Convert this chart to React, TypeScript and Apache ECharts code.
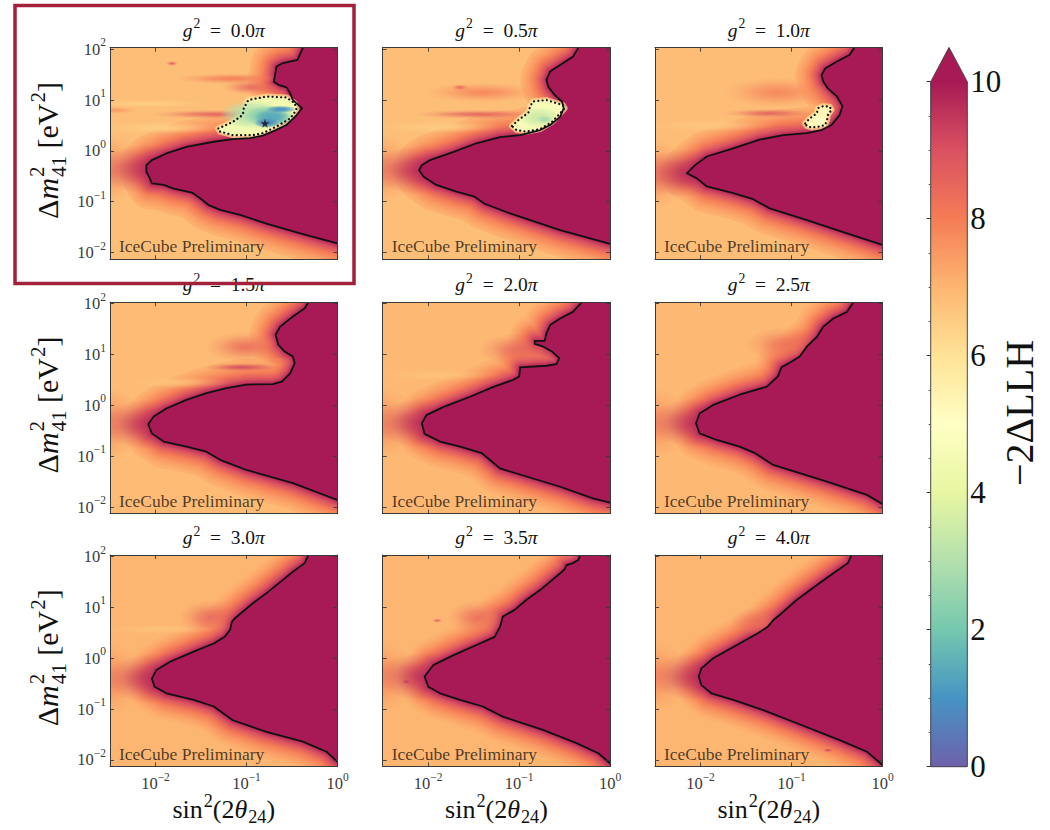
import React, { useEffect, useRef } from 'react';
import * as echarts from 'echarts';

const SERIF = 'Liberation Serif, DejaVu Serif, serif';

// Spectral_r colour map for −2ΔLLH = 0 … 10 (one stop per unit, slightly washed out)
const colourStops = [
  '#6e61ab', '#4694c4', '#75c8ae', '#b3e0ad', '#e8f6a2', '#ffffc5',
  '#fee396', '#fdb671', '#f57c56', '#d95161', '#a81a55',
];

const couplingLabels = ['0.0', '0.5', '1.0', '1.5', '2.0', '2.5', '3.0', '3.5', '4.0'];

// Axis ranges in decades
const sinRange = [-2.5, 0];
const dmRange = [-2.13, 2.03];

// Solid exclusion contours: [log10 sin²(2θ24), log10 Δm²41]
const contourG00 = [
  [-0.38, 2.03], [-0.44, 1.79], [-0.61, 1.72], [-0.67, 1.66], [-0.68, 1.56], [-0.70, 1.36],
  [-0.65, 1.30], [-0.56, 1.25], [-0.52, 1.13], [-0.49, 1.00], [-0.39, 0.84], [-0.45, 0.70],
  [-0.56, 0.51], [-0.69, 0.40], [-0.82, 0.30], [-0.96, 0.25], [-1.15, 0.23], [-1.36, 0.18],
  [-1.66, 0.08], [-1.88, -0.05], [-2.04, -0.18], [-2.10, -0.28], [-2.10, -0.41], [-2.07, -0.51],
  [-2.04, -0.64], [-1.91, -0.67], [-1.80, -0.74], [-1.60, -0.82], [-1.51, -0.93], [-1.42, -1.06],
  [-1.29, -1.16], [-1.07, -1.26], [-0.78, -1.43], [-0.41, -1.62], [0.0, -1.82],
];
const contourG05 = [
  [-0.35, 2.03], [-0.41, 1.85], [-0.55, 1.69], [-0.66, 1.56], [-0.70, 1.40], [-0.68, 1.26],
  [-0.61, 1.10], [-0.53, 0.97], [-0.51, 0.84], [-0.55, 0.67], [-0.66, 0.51], [-0.77, 0.41],
  [-0.99, 0.31], [-1.21, 0.27], [-1.47, 0.15], [-1.72, -0.02], [-1.98, -0.18], [-2.07, -0.28],
  [-2.10, -0.38], [-2.05, -0.51], [-1.91, -0.67], [-1.69, -0.80], [-1.49, -0.90], [-1.38, -1.04],
  [-1.10, -1.23], [-0.55, -1.56], [0.0, -1.83],
];
const contourG10 = [
  [-0.31, 2.03], [-0.36, 1.89], [-0.50, 1.76], [-0.63, 1.62], [-0.67, 1.49], [-0.65, 1.36],
  [-0.60, 1.23], [-0.50, 1.07], [-0.44, 0.88], [-0.47, 0.71], [-0.56, 0.51], [-0.67, 0.41],
  [-0.83, 0.35], [-1.09, 0.31], [-1.35, 0.22], [-1.64, 0.05], [-1.93, -0.11], [-2.06, -0.28],
  [-2.15, -0.44], [-2.04, -0.54], [-1.93, -0.70], [-1.64, -0.83], [-1.42, -0.95], [-1.24, -1.13],
  [-0.83, -1.36], [-0.39, -1.62], [0.0, -1.85],
];
const contourG15 = [
  [-0.32, 2.03], [-0.36, 1.91], [-0.49, 1.75], [-0.63, 1.55], [-0.68, 1.39], [-0.65, 1.19],
  [-0.58, 1.06], [-0.49, 0.96], [-0.47, 0.83], [-0.52, 0.63], [-0.61, 0.47], [-0.71, 0.42],
  [-1.00, 0.41], [-1.22, 0.34], [-1.44, 0.24], [-1.66, 0.11], [-1.88, -0.06], [-2.02, -0.22],
  [-2.08, -0.37], [-2.04, -0.55], [-1.91, -0.71], [-1.66, -0.81], [-1.44, -0.91], [-1.29, -1.07],
  [-1.00, -1.27], [-0.49, -1.53], [0.0, -1.86],
];
const contourG20 = [
  [-0.31, 2.03], [-0.41, 1.84], [-0.55, 1.71], [-0.66, 1.58], [-0.70, 1.42], [-0.72, 1.27],
  [-0.83, 1.27], [-0.83, 1.21], [-0.74, 1.16], [-0.64, 1.06], [-0.56, 0.93], [-0.59, 0.81],
  [-0.70, 0.78], [-0.99, 0.75], [-1.00, 0.57], [-1.07, 0.50], [-1.29, 0.36], [-1.54, 0.17],
  [-1.83, -0.03], [-2.02, -0.19], [-2.07, -0.35], [-2.04, -0.56], [-1.87, -0.71], [-1.65, -0.81],
  [-1.41, -0.94], [-1.21, -1.24], [-0.55, -1.60], [-0.19, -1.83], [0.0, -1.91],
];
const contourG25 = [
  [-0.32, 2.03], [-0.39, 1.84], [-0.54, 1.71], [-0.65, 1.55], [-0.72, 1.35], [-0.83, 1.16],
  [-0.91, 0.96], [-1.00, 0.86], [-1.11, 0.75], [-1.15, 0.57], [-1.27, 0.37], [-1.57, 0.21],
  [-1.86, 0.01], [-2.01, -0.16], [-2.05, -0.35], [-2.01, -0.55], [-1.82, -0.68], [-1.57, -0.81],
  [-1.40, -0.94], [-1.20, -1.17], [-0.61, -1.50], [-0.17, -1.76], [0.0, -1.94],
];
const contourG30 = [
  [-0.32, 2.03], [-0.36, 1.87], [-0.49, 1.70], [-0.60, 1.54], [-0.78, 1.28], [-0.93, 1.08],
  [-1.13, 0.78], [-1.16, 0.72], [-1.18, 0.56], [-1.24, 0.42], [-1.36, 0.29], [-1.58, 0.13],
  [-1.84, -0.07], [-1.99, -0.23], [-2.04, -0.40], [-2.01, -0.56], [-1.88, -0.69], [-1.58, -0.82],
  [-1.36, -0.95], [-1.15, -1.22], [-0.78, -1.45], [-0.38, -1.64], [-0.12, -1.84], [0.0, -2.04],
];
const contourG35 = [
  [-0.33, 2.03], [-0.35, 1.93], [-0.41, 1.87], [-0.48, 1.83], [-0.50, 1.75], [-0.55, 1.67],
  [-0.77, 1.34], [-0.92, 1.15], [-1.05, 0.95], [-1.18, 0.82], [-1.21, 0.62], [-1.27, 0.42],
  [-1.47, 0.26], [-1.72, 0.06], [-1.94, -0.13], [-2.04, -0.36], [-2.00, -0.56], [-1.87, -0.69],
  [-1.65, -0.82], [-1.40, -0.95], [-1.18, -1.15], [-0.74, -1.41], [-0.37, -1.67], [-0.13, -1.87],
  [0.0, -2.07],
];
const contourG40 = [
  [-0.34, 2.03], [-0.38, 1.87], [-0.54, 1.67], [-0.72, 1.44], [-0.94, 1.15], [-1.13, 0.85],
  [-1.20, 0.75], [-1.26, 0.62], [-1.37, 0.49], [-1.60, 0.26], [-1.86, 0.00], [-1.99, -0.20],
  [-2.02, -0.36], [-1.99, -0.53], [-1.88, -0.69], [-1.64, -0.82], [-1.31, -1.02], [-0.94, -1.28],
  [-0.47, -1.61], [-0.17, -1.84], [0.0, -2.10],
];
const contours = [
  contourG00, contourG05, contourG10, contourG15, contourG20,
  contourG25, contourG30, contourG35, contourG40,
];

// Dotted (closed) contours around the low-LLH pockets of the first three couplings
const pocketG00 = [
  [-1.31, 0.44], [-1.15, 0.57], [-1.04, 0.71], [-1.03, 0.84], [-0.98, 1.00], [-0.78, 1.07],
  [-0.56, 1.05], [-0.47, 0.94], [-0.45, 0.81], [-0.52, 0.64], [-0.67, 0.48], [-0.82, 0.35],
  [-0.93, 0.31], [-1.15, 0.31], [-1.29, 0.38],
];
const pocketG05 = [
  [-1.08, 0.49], [-1.00, 0.62], [-0.90, 0.75], [-0.88, 0.87], [-0.85, 0.97], [-0.70, 1.00],
  [-0.52, 0.90], [-0.50, 0.84], [-0.55, 0.74], [-0.64, 0.57], [-0.77, 0.43], [-0.92, 0.38],
  [-1.03, 0.41],
];
const pocketG10 = [
  [-0.85, 0.54], [-0.80, 0.64], [-0.72, 0.74], [-0.71, 0.84], [-0.65, 0.88], [-0.58, 0.87],
  [-0.56, 0.81], [-0.60, 0.71], [-0.61, 0.61], [-0.63, 0.51], [-0.69, 0.48], [-0.78, 0.46],
  [-0.83, 0.49],
];
const pockets = [pocketG00, pocketG05, pocketG10];
const pocketRimLevels = [4.4, 4.6, 5.3];

// Structure inside the pockets: [log10 x, log10 y, half-width, half-height (decades), −2ΔLLH]
const pocketCoreG00 = [
  [-0.95, 0.72, 0.34, 0.28, 3.0],
  [-0.74, 0.68, 0.28, 0.22, 2.0],
  [-0.72, 0.66, 0.20, 0.16, 1.4],
  [-0.78, 0.55, 0.14, 0.10, 0.8],
  [-0.62, 0.82, 0.17, 0.07, 1.0],
];
const pocketCoreG05 = [
  [-0.78, 0.66, 0.22, 0.20, 3.5],
  [-0.72, 0.62, 0.09, 0.08, 2.9],
];
const pocketCoreG10 = [[-0.68, 0.60, 0.08, 0.10, 5.0]];
const pocketCores = [pocketCoreG00, pocketCoreG05, pocketCoreG10];

// Best fit of the g² = 0 scan
const bestFitG00 = [[-0.797, 0.543]];

// Level of the flat part of each surface
const backgroundLevels = [6.8, 6.8, 6.85, 6.9, 6.95, 6.95, 7.0, 7.0, 7.0];

// Rim of the excluded region: [distance from the contour (px), −2ΔLLH]
const rimProfile = [
  [26, 7.12], [23, 7.25], [20.5, 7.4], [18, 7.55], [16, 7.7], [14, 7.88], [12, 8.08],
  [10.5, 8.28], [9, 8.5], [7.5, 8.72], [6, 8.95], [4.5, 9.2], [3, 9.45], [1.5, 9.7],
];

// Local features of each surface: [log10 x, log10 y, half-width, half-height (decades), −2ΔLLH]
const featuresG00 = [
  [-2.55, -0.35, 0.45, 0.70, 7.9], [-2.10, -0.36, 0.52, 0.48, 9.6], [-1.35, 0.72, 0.70, 0.09, 8.7],
  [-1.15, 1.42, 0.65, 0.11, 8.1], [-0.95, 1.25, 0.32, 0.15, 8.5], [-2.10, 0.93, 0.65, 0.08, 6.4],
  [-1.90, 0.45, 0.70, 0.13, 6.4], [-2.45, 0.80, 0.25, 0.07, 7.6], [-1.82, 1.72, 0.07, 0.05, 8.8],
];
const featuresG05 = [
  [-2.55, -0.35, 0.45, 0.70, 7.9], [-2.10, -0.38, 0.52, 0.48, 9.6], [-1.45, 0.72, 0.70, 0.09, 8.7],
  [-1.40, 1.15, 0.65, 0.20, 7.9], [-1.85, 0.47, 0.70, 0.13, 6.5], [-1.65, 1.25, 0.10, 0.06, 8.5],
];
const featuresG10 = [
  [-2.55, -0.45, 0.45, 0.70, 8.0], [-2.15, -0.44, 0.52, 0.48, 9.6], [-1.25, 0.74, 0.50, 0.09, 8.7],
  [-1.15, 1.15, 0.60, 0.30, 7.9], [-1.90, 0.50, 0.70, 0.13, 6.6],
];
const featuresG15 = [
  [-2.55, -0.35, 0.45, 0.70, 7.9], [-2.08, -0.37, 0.52, 0.48, 9.6], [-1.05, 0.75, 0.42, 0.08, 9.2],
  [-1.00, 1.15, 0.45, 0.30, 8.4], [-0.66, 0.90, 0.10, 0.06, 7.9], [-1.80, 0.45, 0.65, 0.13, 6.7],
];
const featuresG20 = [
  [-2.55, -0.35, 0.45, 0.70, 7.9], [-2.07, -0.35, 0.52, 0.48, 9.6], [-1.00, 1.10, 0.45, 0.32, 8.5],
  [-1.90, 0.60, 0.70, 0.13, 6.7],
];
const featuresG25 = [
  [-2.55, -0.35, 0.45, 0.70, 7.9], [-2.05, -0.35, 0.52, 0.48, 9.6], [-1.05, 1.20, 0.45, 0.34, 8.3],
];
const featuresG30 = [
  [-2.55, -0.40, 0.45, 0.70, 7.9], [-2.04, -0.40, 0.52, 0.48, 9.6], [-1.40, 0.80, 0.34, 0.34, 8.5],
  [-1.95, 0.57, 0.65, 0.10, 6.7],
];
const featuresG35 = [
  [-2.55, -0.36, 0.45, 0.70, 7.9], [-2.04, -0.36, 0.52, 0.48, 9.6], [-1.45, 0.80, 0.34, 0.34, 8.4],
  [-1.90, 0.74, 0.06, 0.04, 8.8], [-2.24, -0.46, 0.05, 0.05, 9.5],
];
const featuresG40 = [
  [-2.55, -0.36, 0.45, 0.70, 7.9], [-2.02, -0.36, 0.52, 0.48, 9.6], [-1.35, 0.70, 0.32, 0.32, 8.4],
  [-0.60, -1.81, 0.06, 0.04, 9.3],
];
const features = [
  featuresG00, featuresG05, featuresG10, featuresG15, featuresG20,
  featuresG25, featuresG30, featuresG35, featuresG40,
];

const colourTicks = [0, 2, 4, 6, 8, 10];

// Page layout (px)
const colLeft = [110, 382.7, 655];
const rowTop = [47.7, 302.2, 555];
const PW = 227.5;
const PH = 211.5;
const BAR = { left: 930.7, top: 81.7, width: 36.6, height: 685 };

function hexRgb(h: string) {
  const n = parseInt(h.slice(1), 16);
  return [(n >> 16) & 255, (n >> 8) & 255, n & 255];
}
const stopRgb = colourStops.map(hexRgb);

function colour(v: number, a = 1) {
  const t = Math.max(0, Math.min(10, v));
  const i = Math.min(9, Math.floor(t));
  const f = t - i;
  const c0 = stopRgb[i];
  const c1 = stopRgb[i + 1];
  const c = c0.map((x, k) => Math.round(x + (c1[k] - x) * f));
  return `rgba(${c[0]},${c[1]},${c[2]},${a})`;
}

const toVal = (p: number[]) => [Math.pow(10, p[0]), Math.pow(10, p[1])];

function powLabel(v: number) {
  const e = Math.log10(v);
  const k = Math.round(e);
  if (Math.abs(e - k) > 1e-6) return '';
  return `{b|10}{s|${k < 0 ? '\u2212' + -k : k}}`;
}

const tickRich = {
  b: { fontSize: 16.5, lineHeight: 26, fontFamily: SERIF, color: '#3a3a3a' },
  s: { fontSize: 11.5, lineHeight: 12, verticalAlign: 'top', fontFamily: SERIF, color: '#3a3a3a' },
};

function logAxis(gridIndex: number, position: string, showLabels: boolean, range: number[]) {
  return {
    type: 'log',
    logBase: 10,
    gridIndex,
    position,
    min: Math.pow(10, range[0]),
    max: Math.pow(10, range[1]),
    z: 10,
    axisLine: { show: true, onZero: false, lineStyle: { color: '#3a3a3a', width: 1 } },
    axisTick: { show: true, inside: true, length: 4, lineStyle: { color: '#3a3a3a', width: 0.9 } },
    splitLine: { show: false },
    axisLabel: {
      show: showLabels,
      margin: 4,
      formatter: powLabel,
      rich: tickRich,
      hideOverlap: false,
    },
  };
}

// Stacked super/subscript text built from measured runs
type Seg = { t: string; it?: boolean; sup?: string; sub?: string };
let measureCtx: CanvasRenderingContext2D | null = null;
function textWidth(s: string, size: number, italic?: boolean) {
  if (!measureCtx) measureCtx = document.createElement('canvas').getContext('2d');
  measureCtx!.font = `${italic ? 'italic ' : ''}${size}px ${SERIF}`;
  return measureCtx!.measureText(s).width;
}

function mathText(segs: Seg[], size: number, x: number, y: number, color: string, rotation = 0, anchor = 'center') {
  const children: any[] = [];
  const put = (text: string, px: number, base: number, sz: number, italic?: boolean) => {
    children.push({
      type: 'text',
      x: px,
      y: base - 0.34 * sz,
      style: {
        text,
        fontFamily: SERIF,
        fontSize: sz,
        fontStyle: italic ? 'italic' : 'normal',
        fill: color,
        align: 'left',
        verticalAlign: 'middle',
        textAlign: 'left',
        textVerticalAlign: 'middle',
      },
    });
  };
  const ss = size * 0.7;
  let cx = 0;
  for (const s of segs) {
    if (s.t) {
      put(s.t, cx, 0, size, s.it);
      cx += textWidth(s.t, size, s.it);
    }
    let w = 0;
    const both = !!(s.sup && s.sub);
    if (s.sup) {
      put(s.sup, cx + 1, -size * (both ? 0.45 : 0.42), ss);
      w = Math.max(w, textWidth(s.sup, ss) + 1);
    }
    if (s.sub) {
      put(s.sub, cx + 1, size * (both ? 0.27 : 0.2), ss);
      w = Math.max(w, textWidth(s.sub, ss) + 1);
    }
    cx += w;
  }
  const off = anchor === 'center' ? -cx / 2 : 0;
  children.forEach((c) => (c.x += off));
  return { type: 'group', x, y, rotation, children, z: 50 };
}

function ellipseItem(api: any, strong = false) {
  const x = api.value(0);
  const y = api.value(1);
  const rx = api.value(2);
  const ry = api.value(3);
  const v = api.value(4);
  const c = api.coord([x, y]);
  const ex = api.coord([x * Math.pow(10, rx), y])[0] - c[0];
  const ey = c[1] - api.coord([x, y * Math.pow(10, ry)])[1];
  const a = strong ? [1, 0.9, 0.5, 0] : [0.9, 0.6, 0.2, 0];
  return {
    type: 'circle',
    x: c[0],
    y: c[1],
    scaleX: ex / ey,
    scaleY: 1,
    shape: { cx: 0, cy: 0, r: ey },
    style: {
      fill: {
        type: 'radial',
        x: 0.5,
        y: 0.5,
        r: 0.5,
        colorStops: [
          { offset: 0, color: colour(v, a[0]) },
          { offset: 0.35, color: colour(v, a[1]) },
          { offset: 0.7, color: colour(v, a[2]) },
          { offset: 1, color: colour(v, a[3]) },
        ],
      },
    },
  };
}

// contour polyline extended past the frame at both ends
function contourPixels(contour: number[][], api: any) {
  const first = contour[0];
  const last = contour[contour.length - 1];
  return [
    api.coord(toVal([first[0], first[1] + 0.7])),
    ...contour.map((q) => api.coord(toVal(q))),
    api.coord(toVal([last[0] + 0.7, last[1]])),
  ];
}

function buildOption() {
  const grid: any[] = [];
  const xAxis: any[] = [];
  const yAxis: any[] = [];
  const series: any[] = [];
  const graphic: any[] = [];

  for (let p = 0; p < 9; p++) {
    const r = Math.floor(p / 3);
    const c = p % 3;
    grid.push({
      left: colLeft[c],
      top: rowTop[r],
      width: PW,
      height: PH,
      show: true,
      backgroundColor: colour(backgroundLevels[p]),
      borderWidth: 0,
    });
    const xi = xAxis.length;
    const yi = yAxis.length;
    xAxis.push(logAxis(p, 'bottom', r === 2, sinRange), logAxis(p, 'top', false, sinRange));
    yAxis.push(logAxis(p, 'left', c === 0, dmRange), logAxis(p, 'right', false, dmRange));

    const axes = { xAxisIndex: xi, yAxisIndex: yi };
    const contour = contours[p];

    // graded rim next to the excluded region
    series.push({
      type: 'custom',
      ...axes,
      clip: true,
      silent: true,
      z: 1,
      data: contour.map(toVal),
      renderItem: (params: any, api: any) => {
        if (params.dataIndex !== 0) return null;
        const line = contourPixels(contour, api);
        return {
          type: 'group',
          children: rimProfile.map(([d, v]) => ({
            type: 'polyline',
            shape: { points: line },
            style: {
              fill: 'none',
              stroke: colour(v),
              lineWidth: 2 * d,
              lineJoin: 'round',
              lineCap: 'round',
            },
          })),
        };
      },
    });

    // smooth local structure of the surface
    series.push({
      type: 'custom',
      ...axes,
      clip: true,
      silent: true,
      z: 2,
      data: features[p].map((f) => [Math.pow(10, f[0]), Math.pow(10, f[1]), f[2], f[3], f[4]]),
      renderItem: (_params: any, api: any) => ellipseItem(api),
    });

    // excluded region (−2ΔLLH ≥ 10)
    series.push({
      type: 'custom',
      ...axes,
      clip: true,
      silent: true,
      z: 3,
      data: contour.map(toVal),
      renderItem: (params: any, api: any) => {
        if (params.dataIndex !== 0) return null;
        const line = contourPixels(contour, api);
        return {
          type: 'polygon',
          shape: { points: [...line, api.coord(toVal([0.7, 2.8]))] },
          style: { fill: colour(10) },
        };
      },
    });

    if (p < 3) {
      const pocket = pockets[p];
      series.push({
        type: 'custom',
        ...axes,
        clip: true,
        silent: true,
        z: 4,
        data: pocket.map(toVal),
        renderItem: (params: any, api: any) => {
          if (params.dataIndex !== 0) return null;
          const pts = pocket.map((q) => api.coord(toVal(q)));
          return {
            type: 'group',
            children: [
              {
                type: 'polygon',
                shape: { points: pts },
                style: { fill: 'none', stroke: colour(6.0, 0.7), lineWidth: 6, lineJoin: 'round' },
              },
              {
                type: 'polygon',
                shape: { points: pts },
                style: { fill: colour(pocketRimLevels[p]), stroke: colour(5.4), lineWidth: 2, lineJoin: 'round' },
              },
            ],
          };
        },
      });
      series.push({
        type: 'custom',
        ...axes,
        clip: true,
        silent: true,
        z: 5,
        data: pocketCores[p].map((f) => [Math.pow(10, f[0]), Math.pow(10, f[1]), f[2], f[3], f[4]]),
        renderItem: (_params: any, api: any) => ellipseItem(api, true),
      });
      series.push({
        type: 'line',
        ...axes,
        z: 6,
        silent: true,
        symbol: 'none',
        data: [...pocket, pocket[0]].map(toVal),
        lineStyle: { color: '#111', width: 2.2, type: [0.1, 4.2], cap: 'round' },
      });
    }

    series.push({
      type: 'line',
      ...axes,
      z: 6,
      silent: true,
      symbol: 'none',
      data: contour.map(toVal),
      lineStyle: { color: '#111', width: 1.8, join: 'round' },
    });

    if (p === 0) {
      series.push({
        type: 'scatter',
        ...axes,
        z: 7,
        silent: true,
        symbol: 'path://M50,0 L61,35 L98,35 L68,57 L79,91 L50,70 L21,91 L32,57 L2,35 L39,35 Z',
        symbolSize: 9,
        itemStyle: { color: '#111' },
        data: bestFitG00.map(toVal),
      });
    }

    const cx = colLeft[c] + PW / 2;
    graphic.push(
      mathText([{ t: 'g', it: true, sup: '2' }, { t: '\u2002=\u2002' + couplingLabels[p] }, { t: '\u03c0', it: true }],
        19.5, cx, rowTop[r] - 11, '#111'),
    );
    graphic.push({
      type: 'text',
      x: colLeft[c] + 9,
      y: rowTop[r] + PH - 7 - 0.34 * 17.5,
      z: 50,
      style: {
        text: 'IceCube Preliminary',
        fontFamily: SERIF,
        fontSize: 17.5,
        fill: 'rgba(40,28,20,0.82)',
        align: 'left',
        verticalAlign: 'middle',
        textAlign: 'left',
        textVerticalAlign: 'middle',
      },
    });
    if (c === 0) {
      graphic.push(
        mathText([{ t: '\u0394' }, { t: 'm', it: true, sup: '2', sub: '41' }, { t: ' [eV', sup: '2' }, { t: ']' }],
          30, 58, rowTop[r] + PH / 2 - 3, '#111', Math.PI / 2),
      );
    }
    if (r === 2) {
      graphic.push(
        mathText([{ t: 'sin', sup: '2' }, { t: '(2' }, { t: '\u03b8', it: true, sub: '24' }, { t: ')' }],
          26, cx, 818, '#111'),
      );
    }
  }

  // colour bar
  const barX = xAxis.length;
  const barY = yAxis.length;
  grid.push({ left: BAR.left, top: BAR.top, width: BAR.width, height: BAR.height, show: false });
  xAxis.push({ type: 'value', gridIndex: 9, min: 0, max: 1, show: false });
  yAxis.push({
    type: 'value',
    gridIndex: 9,
    position: 'right',
    min: 0,
    max: 10,
    interval: 2,
    z: 10,
    axisLine: { show: false },
    splitLine: { show: false },
    axisTick: { show: true, inside: true, length: 4, lineStyle: { color: '#333' } },
    minorTick: { show: true, splitNumber: 4, length: 2, lineStyle: { color: '#555' } },
    axisLabel: {
      margin: 3,
      fontSize: 31,
      fontFamily: SERIF,
      color: '#111',
      formatter: (v: number) => (colourTicks.includes(v) ? String(v) : ''),
    },
  });
  series.push({
    type: 'custom',
    xAxisIndex: barX,
    yAxisIndex: barY,
    silent: true,
    z: 2,
    data: [[0.5, 5]],
    renderItem: (_params: any, api: any) => {
      const p0 = api.coord([0, 0]);
      const p1 = api.coord([1, 10]);
      const x0 = p0[0];
      const x1 = p1[0];
      const yb = p0[1];
      const yt = p1[1];
      const tip = yt - 0.05 * (yb - yt);
      const outline = [[x0, yb], [x1, yb], [x1, yt], [(x0 + x1) / 2, tip], [x0, yt]];
      return {
        type: 'group',
        children: [
          {
            type: 'rect',
            shape: { x: x0, y: yt, width: x1 - x0, height: yb - yt },
            style: {
              fill: {
                type: 'linear', x: 0, y: 1, x2: 0, y2: 0,
                colorStops: colourStops.map((col, i) => ({ offset: i / 10, color: col })),
              },
            },
          },
          {
            type: 'polygon',
            shape: { points: [[x0, yt + 0.5], [x1, yt + 0.5], [(x0 + x1) / 2, tip]] },
            style: { fill: colour(10) },
          },
          {
            type: 'polygon',
            shape: { points: outline },
            style: { fill: 'none', stroke: '#333', lineWidth: 0.9 },
          },
        ],
      };
    },
  });
  graphic.push(mathText([{ t: '\u22122\u0394LLH' }], 40, 1033, 413, '#111', Math.PI / 2));

  // highlight frame round the first panel
  graphic.push({
    type: 'rect',
    z: 100,
    shape: { x: 15, y: 5.5, width: 339, height: 278 },
    style: { fill: 'none', stroke: '#a3203a', lineWidth: 3.5 },
  });

  return {
    animation: false,
    backgroundColor: '#ffffff',
    textStyle: { fontFamily: SERIF },
    grid,
    xAxis,
    yAxis,
    series,
    graphic: { elements: graphic },
  };
}

export default function App() {
  const ref = useRef<HTMLDivElement>(null);
  useEffect(() => {
    document.body.style.margin = '0';
    const chart = echarts.init(ref.current!, null, { renderer: 'svg', width: 1050, height: 830 });
    chart.setOption(buildOption() as any);
    return () => chart.dispose();
  }, []);
  return <div ref={ref} style={{ width: 1050, height: 830, background: '#fff' }} />;
}
